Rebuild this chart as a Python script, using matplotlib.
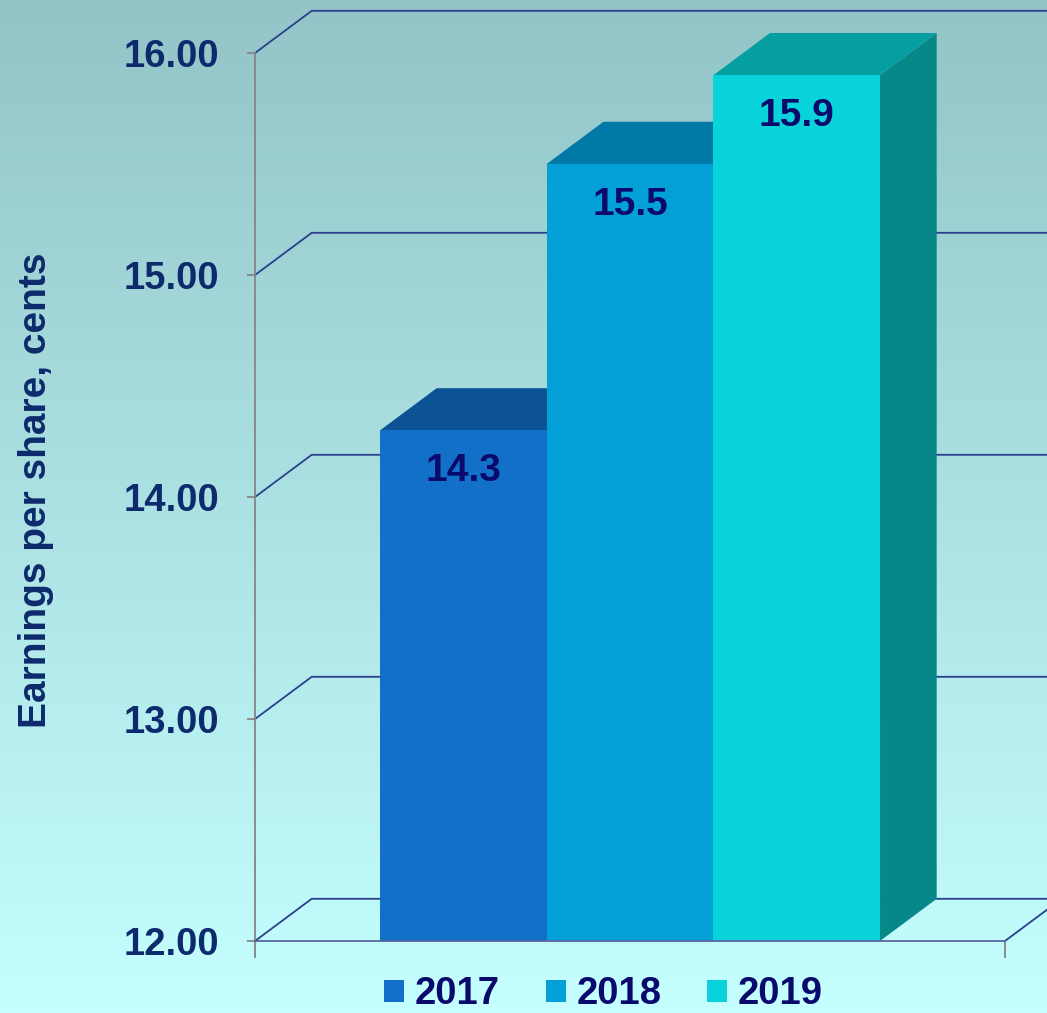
import numpy as np
import matplotlib
matplotlib.use("Agg")
import matplotlib.pyplot as plt
from matplotlib.patches import Polygon, Patch
from matplotlib.colors import LinearSegmentedColormap

plt.rcParams['font.family'] = ['Liberation Sans', 'DejaVu Sans']

# data
years = ["2017", "2018", "2019"]
eps = [14.3, 15.5, 15.9]
yticks = [12, 13, 14, 15, 16]

front_colors = ["#1270c8", "#03a0d8", "#09d3da"]
top_colors = ["#0b5394", "#0179a6", "#059fa2"]
side_colors = ["#0a4f8a", "#017296", "#078787"]
navy = "#0d2a6c"
label_navy = "#0a0a6c"
grid_col = "#2b3f8c"

# 3-D depth offset (data units)
dx, dy = 0.34, 0.19
x0, x1 = -1.25, 3.25
y0, y1 = 12, 16

fig = plt.figure(figsize=(10.47, 10.13), dpi=100)

# gradient background
bg = fig.add_axes([0, 0, 1, 1], zorder=-10)
grad = np.linspace(0, 1, 256).reshape(-1, 1)
cmap = LinearSegmentedColormap.from_list("bg", ["#93c4c7", "#c5ffff"])
bg.imshow(grad, aspect="auto", cmap=cmap, extent=[0, 1, 0, 1], origin="upper")
bg.axis("off")

ax = fig.add_axes([0.2436, 0.0711, 0.7163, 0.8766])
ax.patch.set_alpha(0)
ax.set_xlim(x0, x1)
ax.set_ylim(y0, y1)

# perspective gridlines (back wall + diagonals)
for v in yticks:
    ax.plot([x0, x0 + dx, x1 + dx + 0.5], [v, v + dy, v + dy],
            color=grid_col, lw=1.3, clip_on=False, zorder=1)
# right floor diagonal
ax.plot([x1, x1 + dx], [y0, y0 + dy], color=grid_col, lw=1.3, clip_on=False, zorder=1)

# bars
xs = np.arange(len(years))
for i, (x, v) in enumerate(zip(xs, eps)):
    z = 3 + i * 3
    side = Polygon([(x + 0.5, y0), (x + 0.5, v), (x + 0.5 + dx, v + dy), (x + 0.5 + dx, y0 + dy)],
                   closed=True, fc=side_colors[i], ec="none", zorder=z, clip_on=False)
    top = Polygon([(x - 0.5, v), (x - 0.5 + dx, v + dy), (x + 0.5 + dx, v + dy), (x + 0.5, v)],
                  closed=True, fc=top_colors[i], ec="none", zorder=z + 1, clip_on=False)
    ax.add_patch(side)
    ax.add_patch(top)
    ax.bar(x, v - y0, bottom=y0, width=1.0, color=front_colors[i], zorder=z + 2, clip_on=False)
    ax.text(x, v - 0.185, f"{v:.1f}", ha="center", va="center", fontsize=28,
            fontweight="bold", color=label_navy, zorder=20)

# axes styling
for s in ["top", "right"]:
    ax.spines[s].set_visible(False)
ax.spines["left"].set_color("#858585")
ax.spines["left"].set_linewidth(1.3)
ax.spines["bottom"].set_color("#5668a0")
ax.spines["bottom"].set_linewidth(1.3)
ax.spines["bottom"].set_zorder(25)

ax.set_yticks(yticks)
ax.set_yticklabels([f"{t:.2f}" for t in yticks], fontsize=27.5, fontweight="bold", color=navy)
ax.tick_params(axis="y", direction="out", length=6, width=1.3, color="#858585", pad=19.5)
ax.set_xticks([x0, x1])
ax.set_xticklabels([])
ax.tick_params(axis="x", direction="out", length=12, width=1.3, color="#858585")

fig.text(0.034, 0.516, "Earnings per share, cents", rotation=90, ha="center", va="center",
         fontsize=28, fontweight="bold", color=navy)

handles = [Patch(fc=c, ec="none") for c in front_colors]
fig.legend(handles, years, loc="center", bbox_to_anchor=(0.5765, 0.0185), ncol=3,
           frameon=False, handlelength=0.52, handleheight=0.52,
           handletextpad=0.28, columnspacing=1.2, borderpad=0,
           prop={"weight": "bold", "size": 27.5}, labelcolor=label_navy)

fig.savefig("out.png", dpi=100)
